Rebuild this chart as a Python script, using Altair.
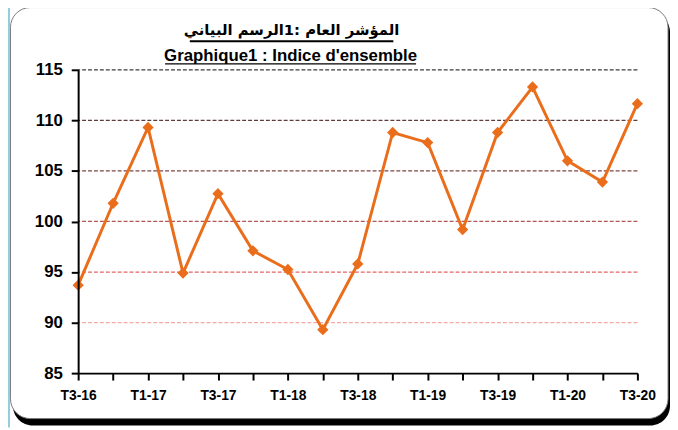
import altair as alt
import pandas as pd

# ---- data ----
quarters = ["T3-16", "T4-16", "T1-17", "T2-17", "T3-17", "T4-17", "T1-18", "T2-18",
            "T3-18", "T4-18", "T1-19", "T2-19", "T3-19", "T4-19", "T1-20", "T2-20", "T3-20"]
index_values = [93.7, 101.8, 109.3, 94.9, 102.75, 97.1, 95.25, 89.3,
                95.8, 108.8, 107.8, 99.2, 108.8, 113.3, 106.0, 103.9, 111.65]
y_ticks = [85, 90, 95, 100, 105, 110, 115]
grid_levels = [90, 95, 100, 105, 110, 115]
grid_colors = ["#f3a9a9", "#e46464", "#b35656", "#7d4646", "#5e3c3c", "#3c3c3c"]
title_ar = "المؤشر العام :1الرسم البياني"
title_fr = "Graphique1 : Indice d'ensemble"

FONT = "Liberation Sans, Arial, sans-serif"
ORANGE = "#ea6d1b"

df = pd.DataFrame({"q": quarters, "v": index_values})
grid_df = pd.DataFrame({"g": grid_levels, "c": grid_colors})
one = pd.DataFrame({"k": [0]})

xenc = alt.X("q:N", sort=quarters, title=None,
             scale=alt.Scale(type="point", padding=0),
             axis=alt.Axis(labelAngle=0, tickSize=7, tickWidth=2, tickColor="black",
                           domainColor="black", domainWidth=2, labelPadding=9,
                           labelFont=FONT, labelFontSize=14, labelFontWeight="bold",
                           labelColor="black", zindex=1,
                           labelExpr="(substring(datum.value,0,2) == 'T2' || substring(datum.value,0,2) == 'T4') ? '' : datum.value"))
yenc = alt.Y("v:Q", title=None,
             scale=alt.Scale(domain=[85, 115], nice=False, zero=False),
             axis=alt.Axis(values=y_ticks, grid=False, tickSize=7, tickWidth=2,
                           tickColor="black", domainColor="black", domainWidth=2,
                           labelPadding=9, labelFont=FONT, labelFontSize=17,
                           labelFontWeight="bold", labelColor="black", zindex=1))

# frame decorations
shadow = alt.Chart(one).mark_rect(cornerRadius=20, color="black").encode(
    x=alt.value(-66), x2=alt.value(599), y=alt.value(-58), y2=alt.value(360))
box = alt.Chart(one).mark_rect(cornerRadius=20, fill="white", stroke="#7a7a7a",
                               strokeWidth=1).encode(
    x=alt.value(-68.5), x2=alt.value(597), y=alt.value(-63), y2=alt.value(353))
bluebar = alt.Chart(one).mark_rect(color="#92cddc").encode(
    x=alt.value(-79), x2=alt.value(-69), y=alt.value(-68), y2=alt.value(362))

grid = alt.Chart(grid_df).mark_rule(strokeDash=[4, 2], strokeWidth=1.3).encode(
    y=alt.Y("g:Q", scale=alt.Scale(domain=[85, 115], nice=False, zero=False)),
    color=alt.Color("c:N", scale=None))

line = alt.Chart(df).mark_line(color=ORANGE, strokeWidth=3).encode(x=xenc, y=yenc)
pts = alt.Chart(df).mark_point(shape="diamond", filled=True, color=ORANGE,
                               size=130, opacity=1).encode(x=xenc, y=yenc)

t_ar = alt.Chart(pd.DataFrame({"t": [title_ar]})).mark_text(
    font="DejaVu Sans", fontSize=15, fontWeight="bold", color="black",
    align="center", baseline="alphabetic").encode(
    text="t:N", x=alt.value(216), y=alt.value(-35))
t_fr = alt.Chart(pd.DataFrame({"t": [title_fr]})).mark_text(
    font=FONT, fontSize=17, fontWeight="bold", color="black",
    align="center", baseline="alphabetic").encode(
    text="t:N", x=alt.value(215), y=alt.value(-9))
u_ar = alt.Chart(one).mark_rule(color="black", strokeWidth=2).encode(
    x=alt.value(113), x2=alt.value(319), y=alt.value(-29))
u_fr = alt.Chart(one).mark_rule(color="black", strokeWidth=1.5).encode(
    x=alt.value(88), x2=alt.value(342), y=alt.value(-6))

chart = alt.layer(shadow, box, bluebar, grid, line, pts, t_ar, t_fr, u_ar, u_fr).properties(
    width=566, height=307,
    autosize=alt.AutoSizeParams(type="none"),
    padding={"left": 71, "top": 60, "right": 33, "bottom": 55},
    background="white",
).configure_view(stroke=None)

chart.save("out.html", embed_options={"renderer": "svg", "actions": False})
